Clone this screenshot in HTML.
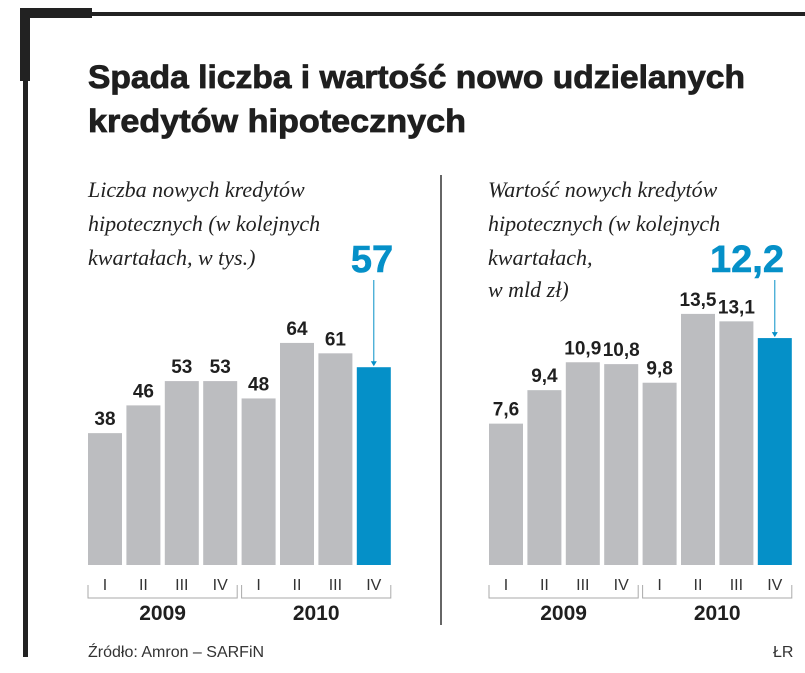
<!DOCTYPE html>
<html><head><meta charset="utf-8"><style>
html,body{margin:0;padding:0;background:#fff}
svg{display:block}
.t{font-family:"Liberation Sans",sans-serif;font-weight:bold;fill:#1f1f1f}
.s{font-family:"Liberation Serif",serif;font-style:italic;font-size:22px;fill:#222}
.v{font-family:"Liberation Sans",sans-serif;font-weight:bold;font-size:19px;fill:#1f1f1f}
.r{font-family:"Liberation Sans",sans-serif;font-size:16px;fill:#333}
.y{font-family:"Liberation Sans",sans-serif;font-weight:bold;font-size:21px;fill:#1f1f1f}
</style></head><body>
<svg id="c" width="805" height="673" xmlns="http://www.w3.org/2000/svg">
<rect x="20" y="12" width="785" height="4" fill="#222"/>
<rect x="20" y="8" width="72" height="10" fill="#222"/>
<rect x="20" y="8" width="10" height="73" fill="#222"/>
<rect x="23" y="12" width="5" height="645" fill="#222"/>
<text class="t" x="88" y="88" font-size="32" stroke="#1f1f1f" stroke-width="0.8" textLength="657" lengthAdjust="spacingAndGlyphs">Spada liczba i wartość nowo udzielanych</text>
<text class="t" x="88" y="132" font-size="32" stroke="#1f1f1f" stroke-width="0.8" textLength="378" lengthAdjust="spacingAndGlyphs">kredytów hipotecznych</text>
<line x1="441" y1="175" x2="441" y2="625" stroke="#333" stroke-width="1.5"/>
<g class="s">
<text x="88" y="197">Liczba nowych kredytów</text>
<text x="88" y="231">hipotecznych (w kolejnych</text>
<text x="88" y="265">kwartałach, w tys.)</text>
</g>
<g class="s">
<text x="488" y="197">Wartość nowych kredytów</text>
<text x="488" y="231">hipotecznych (w kolejnych</text>
<text x="488" y="265">kwartałach,</text>
<text x="488" y="297">w mld zł)</text>
</g>
<g id="left"></g>
<g id="right"></g>
<text class="r" x="88" y="657" font-size="15">Źródło: Amron – SARFiN</text>
<text class="r" x="773" y="657" font-size="15">ŁR</text>
</svg>
<script>
const quarters=["I","II","III","IV","I","II","III","IV"];
const years=["2009","2010"];
const countValues=[38,46,53,53,48,64,61,57];
const countLabels=["38","46","53","53","48","64","61","57"];
const valueValues=[7.6,9.4,10.9,10.8,9.8,13.5,13.1,12.2];
const valueLabels=["7,6","9,4","10,9","10,8","9,8","13,5","13,1","12,2"];
const NS="http://www.w3.org/2000/svg";
function mk(p,tag,a){const e=document.createElementNS(NS,tag);for(const k in a)e.setAttribute(k,a[k]);p.appendChild(e);return e;}
function chart(g,x0,vals,labels,scale,hlX){
  const base=565,pitch=38.4,bw=34;
  const xs=i=>x0+i*pitch;
  const ys=v=>base-v*scale;
  vals.forEach((v,i)=>{
    const last=i===vals.length-1;
    const r=mk(g,"rect",{x:xs(i),y:ys(v),width:bw,height:base-ys(v),fill:last?"#0590c8":"#bcbdc0"});
    
    
    if(last){
      const t=mk(g,"text",{x:hlX,y:272,"text-anchor":"middle","class":"t","font-size":"38",stroke:"#0590c8","stroke-width":"0.6"});
      t.style.fill="#0590c8";t.textContent=labels[i];
      
      
      const l=mk(g,"line",{x1:xs(i)+bw/2,y1:280,x2:xs(i)+bw/2,y2:ys(v)-4,stroke:"#0590c8","stroke-width":1});
      
      
      const a=mk(g,"path",{d:`M${xs(i)+bw/2-3} ${ys(v)-6}L${xs(i)+bw/2+3} ${ys(v)-6}L${xs(i)+bw/2} ${ys(v)-1}Z`,fill:"#0590c8"});
      
      
    }else{
      const t=mk(g,"text",{x:xs(i)+bw/2,y:ys(v)-8,"text-anchor":"middle","class":"v"});
      t.textContent=labels[i];
      
      
    }
    const q=mk(g,"text",{x:xs(i)+bw/2,y:590,"text-anchor":"middle","class":"r"});
    q.textContent=quarters[i];
    
    
  });
  years.forEach((y,j)=>{
    const a=xs(j*4),b=xs(j*4+3)+bw;
    const p=mk(g,"path",{d:`M${a} 585V598H${b}V585`,fill:"none",stroke:"#aaa","stroke-width":1});
    
    
    const t=mk(g,"text",{x:(a+b)/2,y:620,"text-anchor":"middle","class":"y"});
    t.textContent=y;
    
    
  });
}
chart(document.getElementById("left"),88,countValues,countLabels,3.47,372);
chart(document.getElementById("right"),489,valueValues,valueLabels,18.6,747);
</script>
</body></html>
